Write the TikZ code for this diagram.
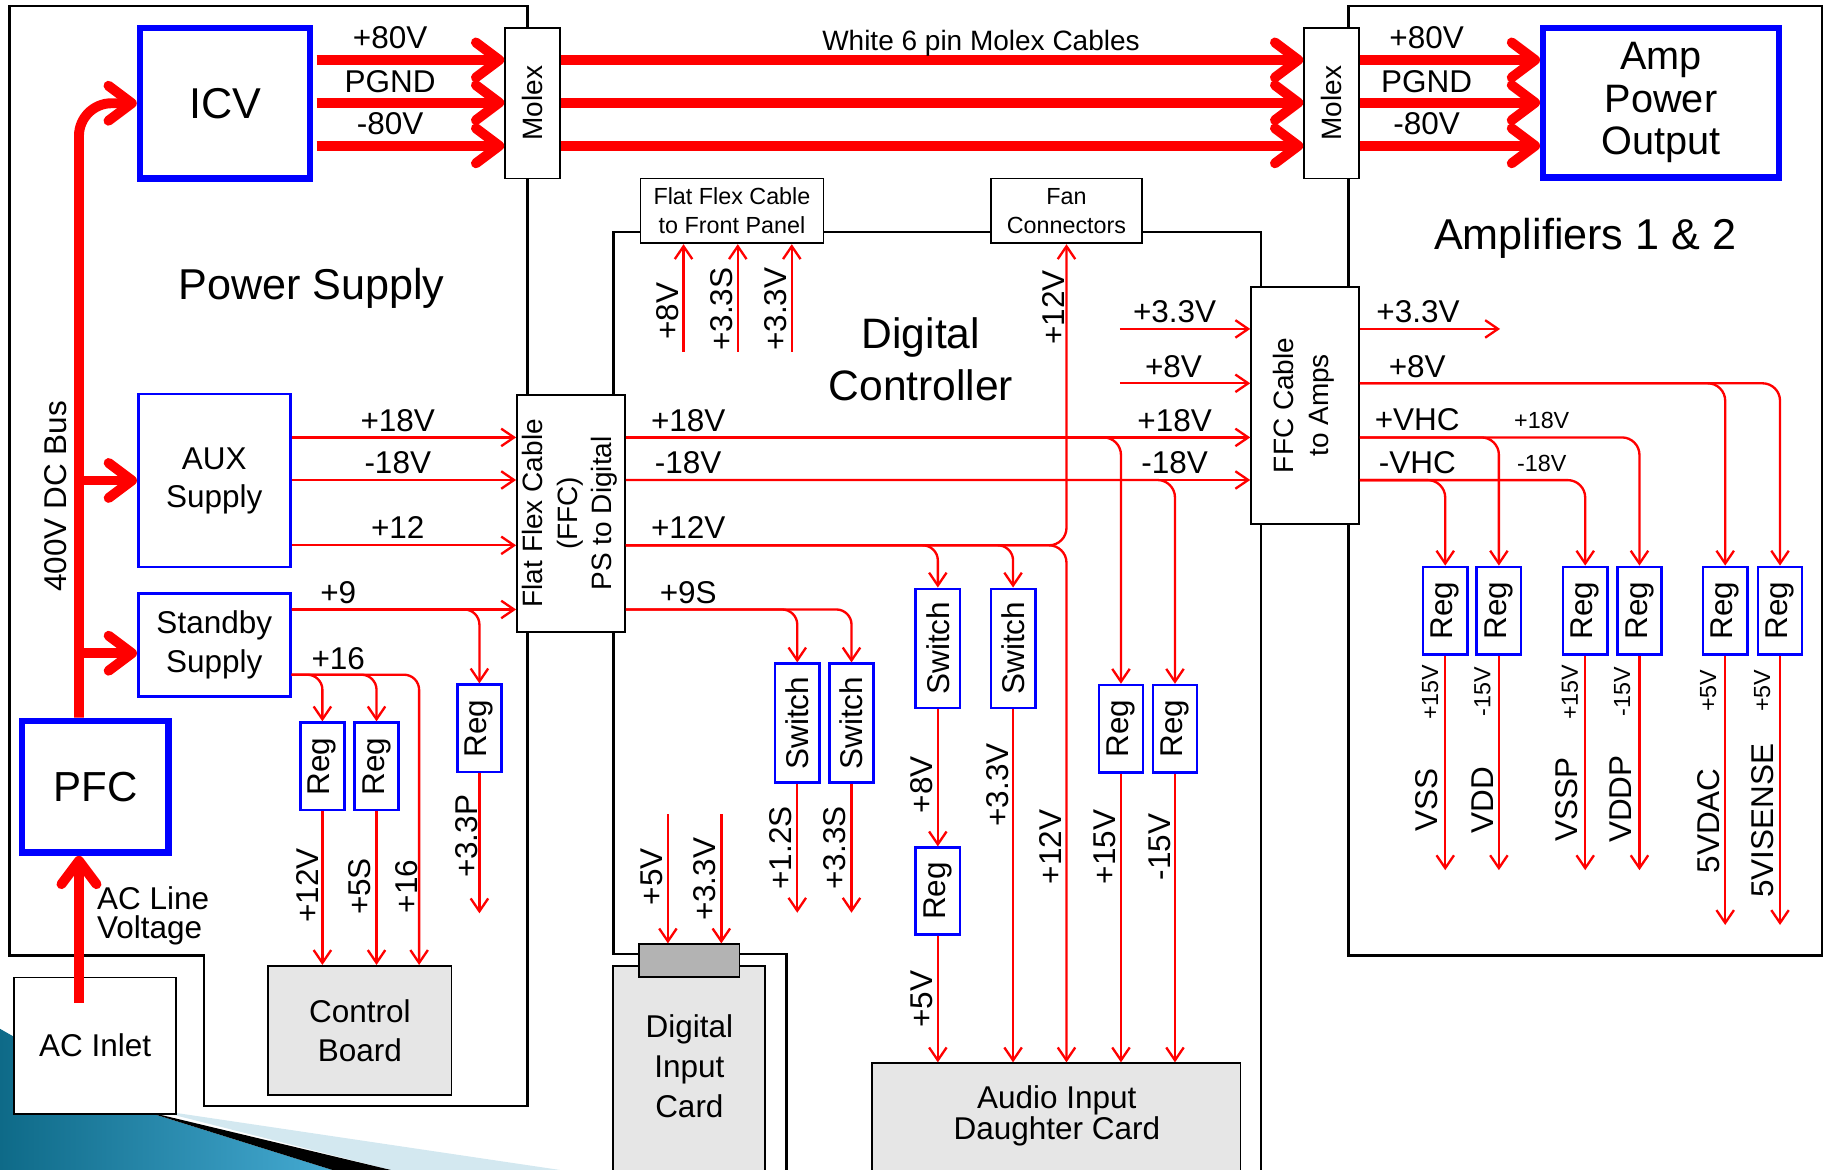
\documentclass[tikz,border=0pt]{standalone}
\usepackage{fontspec}
\usepackage{graphicx}
\setmainfont{Liberation Sans}
\usetikzlibrary{arrows.meta}
\definecolor{boxgray}{HTML}{E6E6E6}
\definecolor{conngray}{HTML}{B3B3B3}
\definecolor{tealdark}{HTML}{0E6A88}
\definecolor{teallight}{HTML}{45AAD2}
\definecolor{paleblue}{HTML}{D3E8F0}
\tikzset{
  thinarr/.style={draw=red, line width=2pt, -{Straight Barb[length=11pt,width=15pt]}},
  thkarr/.style={draw=red, line width=8.5pt, -{Straight Barb[length=20pt,width=30pt,round]}},
  region/.style={draw=black, line width=2.2pt},
  bbox/.style={draw=blue, line width=2.2pt, fill=white, inner sep=0pt},
  tbbox/.style={draw=blue, line width=5.5pt, fill=white, inner sep=0pt},
  kbox/.style={draw=black, line width=1.5pt, fill=white, inner sep=0pt},
  gbox/.style={draw=black, line width=1.5pt, fill=boxgray, inner sep=0pt},
  sz/.style 2 args={minimum width=#1pt, minimum height=#2pt},
  big/.style={font=\fontsize{36}{42}\selectfont, inner sep=0pt},
  med/.style={font=\fontsize{27}{33}\selectfont, inner sep=0pt},
  molf/.style={font=\fontsize{24}{29.5}\selectfont, inner sep=0pt},
  smf/.style={font=\fontsize{20}{25}\selectfont, inner sep=0pt},
  lbl/.style={font=\fontsize{27}{33}\selectfont, inner sep=0pt},
  lblr/.style={lbl, rotate=90},
  slblr/.style={smf, rotate=90},
  regbox/.style={bbox, sz={38}{75}, font=\fontsize{27}{33}\selectfont},
  swbox/.style={bbox, sz={38}{102}, font=\fontsize{27}{33}\selectfont},
}
\begin{document}
\begin{tikzpicture}[x=1pt,y=-1pt]
\useasboundingbox (0,0) rectangle (1568,1003);
\clip (0,0) rectangle (1568,1003);

% ---------- template decoration (bottom left)
\shade[left color=tealdark, right color=teallight] (0,882) -- (125,953) -- (285,1003) -- (0,1003) -- cycle;
\fill[paleblue] (130,951) -- (480,1003) -- (335,1003) -- cycle;
\fill[black] (122,952) -- (335,1003) -- (285,1003) -- cycle;

% ---------- regions
\draw[region] (8,5) -- (452,5) -- (452,948) -- (175,948) -- (175,819) -- (8,819) -- cycle;
\draw[region] (674.3,1010) -- (674.3,818) -- (526,818) -- (526,199) -- (1081,199) -- (1081,1010);
\draw[region] (1156,5) rectangle (1562,819);

% ---------- helper levels
\coordinate (yA) at (0,51.4);
\coordinate (yB) at (0,88);
\coordinate (yC) at (0,125);
\coordinate (y18) at (0,375);
\coordinate (ym18) at (0,411.5);
\coordinate (y12) at (0,467.5);
\coordinate (y9) at (0,522.5);
\coordinate (y16) at (0,578.4);
\coordinate (y33) at (0,282);
\coordinate (y8) at (0,328.6);
\coordinate (yst) at (0,560);
\coordinate (yac) at (0,860);
\coordinate (bx) at (67.7,0);

% ---------- power supply boxes
\node[tbbox, sz={146}{129}, big, font=\fontsize{37}{42}\selectfont] (icv) at (193,88.5) {ICV};
\node[tbbox, sz={125.5}{113}, big] (pfc) at (81.75,674.5) {PFC};
\node[bbox, sz={130.4}{148.2}, med, align=center, font=\fontsize{27}{32.6}\selectfont] (aux) at (183.7,411.9) {AUX\\Supply};
\node[bbox, sz={130.4}{88}, med, align=center, font=\fontsize{27}{33}\selectfont] (stby) at (183.7,553) {Standby\\Supply};
\node[kbox, sz={139}{117}, med] (acin) at (81.5,896.5) {AC Inlet};
\node[kbox, sz={47}{129.3}, molf] (mol1) at (456.5,88.35) {\rotatebox{90}{Molex}};
\node[kbox, sz={92.5}{202.9}] (ffcps) at (489.45,440.05) {};
\node[molf, rotate=90, align=center] (ffcpst) at (488.7,440) {Flat Flex Cable\\(FFC)\\PS to Digital};
\node[gbox, sz={157}{111}, med, align=center, font=\fontsize{27}{33.5}\selectfont] (ctrl) at (308.5,883.5) {Control\\Board};
\node[regbox] (regA) at (276.4,657) {\rotatebox{90}{Reg}};
\node[regbox] (regB) at (322.8,657) {\rotatebox{90}{Reg}};
\node[regbox] (reg33p) at (411,624.5) {\rotatebox{90}{Reg}};

% ---------- amplifier boxes
\node[tbbox, sz={202}{128}, align=center, font=\fontsize{34}{36.5}\selectfont] (amp) at (1424,88) {Amp\\Power\\Output};
\node[kbox, sz={47}{129}, molf] (mol2) at (1141.5,88.5) {\rotatebox{90}{Molex}};
\node[kbox, sz={92.4}{203}] (ffca) at (1118.8,347.5) {};
\node[molf, rotate=90, align=center, font=\fontsize{24}{30}\selectfont] (ffcat) at (1118,347.5) {FFC Cable\\to Amps};
\node[regbox] (ar1) at (1239,523.5) {\rotatebox{90}{Reg}};
\node[regbox] (ar2) at (1285,523.5) {\rotatebox{90}{Reg}};
\node[regbox] (ar3) at (1359,523.5) {\rotatebox{90}{Reg}};
\node[regbox] (ar4) at (1405.5,523.5) {\rotatebox{90}{Reg}};
\node[regbox] (ar5) at (1479,523.5) {\rotatebox{90}{Reg}};
\node[regbox] (ar6) at (1526,523.5) {\rotatebox{90}{Reg}};

% ---------- digital controller boxes
\node[kbox, sz={157}{55.6}, smf, align=center] (fp) at (627.5,180.8) {Flat Flex Cable\\to Front Panel};
\node[kbox, sz={129.4}{55.6}, smf, align=center] (fan) at (914.3,180.8) {Fan\\Connectors};
\node[gbox, sz={130.2}{192}] (dic) at (590.9,924) {};
\node[med, align=center, font=\fontsize{27}{34}\selectfont] (dict) at (591,914) {Digital\\Input\\Card};
\node[draw=black, line width=1.5pt, fill=conngray, inner sep=0pt, sz={86}{27.8}] (conn) at (591,823.4) {};
\node[gbox, sz={315.7}{108.5}] (audio) at (905.65,965.75) {};
\node[med, align=center, font=\fontsize{27}{24}\selectfont] (audiot) at (906,956.6) {Audio Input\\Daughter Card};
\node[swbox] (sw1) at (683.5,620) {\rotatebox{90}{Switch}};
\node[swbox] (sw2) at (730,620) {\rotatebox{90}{Switch}};
\node[swbox] (sw3) at (804,555.8) {\rotatebox{90}{Switch}};
\node[swbox] (sw4) at (868.5,555.8) {\rotatebox{90}{Switch}};
\node[bbox, sz={38}{74.2}, font=\fontsize{27}{33}\selectfont] (rg3) at (804,763.8) {\rotatebox{90}{Reg}};
\node[regbox] (rg1) at (961,624.8) {\rotatebox{90}{Reg}};
\node[regbox] (rg2) at (1007.3,624.8) {\rotatebox{90}{Reg}};

% ---------- thick power arrows
\foreach \yy in {yA,yB,yC}{
  \draw[thkarr, shorten <=2.75pt] (icv.east |- \yy) -- (mol1.west |- \yy);
  \draw[thkarr] (mol1.east |- \yy) -- (mol2.west |- \yy);
  \draw[thkarr] (mol2.east |- \yy) -- (amp.west |- \yy);
}
\draw[thkarr, rounded corners=28pt] (pfc.north -| bx) |- (icv.west);
\draw[thkarr] (bx |- aux.west) -- (aux.west);
\draw[thkarr] (bx |- yst) -- (stby.west |- yst);
\draw[thkarr] (bx |- yac) -- (pfc.south -| bx);

% ---------- power supply thin arrows
\draw[thinarr] (aux.east |- y18) -- (ffcps.west |- y18);
\draw[thinarr] (aux.east |- ym18) -- (ffcps.west |- ym18);
\draw[thinarr] (aux.east |- y12) -- (ffcps.west |- y12);
\draw[thinarr] (stby.east |- y9) -- (ffcps.west |- y9);
\draw[thinarr, rounded corners=13pt] (stby.east |- y9) -| (reg33p.north);
\draw[thinarr, rounded corners=13pt] (stby.east |- y16) -| (regA.north);
\draw[thinarr, rounded corners=13pt] (stby.east |- y16) -| (regB.north);
\coordinate (x16) at (359.3,0);
\draw[thinarr, rounded corners=13pt] (stby.east |- y16) -| (ctrl.north -| x16);
\draw[thinarr] (regA.south) -- (ctrl.north -| regA.south);
\draw[thinarr] (regB.south) -- (ctrl.north -| regB.south);
\coordinate (e33p) at (411,783);
\draw[thinarr] (reg33p.south) -- (e33p);

% ---------- digital controller thin arrows
\coordinate (fpa) at (586,301.5);
\coordinate (fpb) at (632.5,301.5);
\coordinate (fpc) at (678.8,301.5);
\draw[thinarr] (fpa) -- (fp.south -| fpa);
\draw[thinarr] (fpb) -- (fp.south -| fpb);
\draw[thinarr] (fpc) -- (fp.south -| fpc);
\draw[thinarr] (ffcps.east |- y18) -- (ffca.west |- y18);
\draw[thinarr] (ffcps.east |- ym18) -- (ffca.west |- ym18);
\draw[thinarr, rounded corners=15pt] (ffcps.east |- y18) -| (rg1.north);
\draw[thinarr, rounded corners=15pt] (ffcps.east |- ym18) -| (rg2.north);
\draw[thinarr, rounded corners=15pt] (ffcps.east |- y12) -| (fan.south);
\draw[thinarr, rounded corners=15pt] (ffcps.east |- y12) -| (audio.north -| fan.south);
\draw[thinarr, rounded corners=13pt] (ffcps.east |- y12) -| (sw3.north);
\draw[thinarr, rounded corners=13pt] (ffcps.east |- y12) -| (sw4.north);
\draw[thinarr, rounded corners=13pt] (ffcps.east |- y9) -| (sw1.north);
\draw[thinarr, rounded corners=13pt] (ffcps.east |- y9) -| (sw2.north);
\coordinate (e1) at (683.5,782.5);
\coordinate (e2) at (730,782.5);
\draw[thinarr] (sw1.south) -- (e1);
\draw[thinarr] (sw2.south) -- (e2);
\draw[thinarr] (sw3.south) -- (rg3.north);
\draw[thinarr] (rg3.south) -- (audio.north -| rg3.south);
\draw[thinarr] (sw4.south) -- (audio.north -| sw4.south);
\draw[thinarr] (rg1.south) -- (audio.north -| rg1.south);
\draw[thinarr] (rg2.south) -- (audio.north -| rg2.south);
\coordinate (dia) at (572.6,698);
\coordinate (dib) at (618.4,698);
\draw[thinarr] (dia) -- (conn.north -| dia);
\draw[thinarr] (dib) -- (conn.north -| dib);
\coordinate (s33) at (960,282);
\coordinate (s8) at (960,328.6);
\draw[thinarr] (s33) -- (ffca.west |- s33);
\draw[thinarr] (s8) -- (ffca.west |- s8);

% ---------- amplifier thin arrows
\coordinate (a33) at (1286,282);
\draw[thinarr] (ffca.east |- y33) -- (a33);
\draw[thinarr, rounded corners=15pt] (ffca.east |- y8) -| (ar5.north);
\draw[thinarr, rounded corners=15pt] (ffca.east |- y8) -| (ar6.north);
\draw[thinarr, rounded corners=15pt] (ffca.east |- y18) -| (ar2.north);
\draw[thinarr, rounded corners=15pt] (ffca.east |- y18) -| (ar4.north);
\coordinate (ymv) at (0,411.6);
\draw[thinarr, rounded corners=15pt] (ffca.east |- ymv) -| (ar1.north);
\draw[thinarr, rounded corners=15pt] (ffca.east |- ymv) -| (ar3.north);
\coordinate (ya) at (0,746);
\coordinate (yb) at (0,793);
\draw[thinarr] (ar1.south) -- (ar1.south |- ya);
\draw[thinarr] (ar2.south) -- (ar2.south |- ya);
\draw[thinarr] (ar3.south) -- (ar3.south |- ya);
\draw[thinarr] (ar4.south) -- (ar4.south |- ya);
\draw[thinarr] (ar5.south) -- (ar5.south |- yb);
\draw[thinarr] (ar6.south) -- (ar6.south |- yb);

% ---------- titles
\node[big, anchor=base, font=\fontsize{37}{42}\selectfont] (tps) at (267,257) {Power Supply};
\node[big, align=center, font=\fontsize{36.5}{44.3}\selectfont] (tdc) at (789.5,307.8) {Digital\\Controller};
\node[big, anchor=base, font=\fontsize{37}{42}\selectfont] (tamp) at (1359,214.3) {Amplifiers 1 \& 2};
\node[molf] (twm) at (841,37.5) {White 6 pin Molex Cables};
\node[lblr] (tbus) at (48,425.6) {400V DC Bus};
\node[med, align=left, anchor=north west, font=\fontsize{27}{25}\selectfont] (tacl) at (83,760) {AC Line\\Voltage};

% ---------- labels power
\node[lbl] at (334.5,32) {+80V};
\node[lbl] at (334.5,70) {PGND};
\node[lbl] at (334.5,105.7) {-80V};
\node[lbl] at (1223,32) {+80V};
\node[lbl] at (1223,70) {PGND};
\node[lbl] at (1223,106) {-80V};
\node[lbl] at (341,360.6) {+18V};
\node[lbl] at (341,397) {-18V};
\node[lbl] at (341,452.4) {+12};
\node[lbl] at (290,508.5) {+9};
\node[lbl] at (290,564.3) {+16};
\node[lblr] at (264,759) {+12V};
\node[lblr] at (308.6,760) {+5S};
\node[lblr] at (348.6,760) {+16};
\node[lblr] at (400,717) {+3.3P};

% ---------- labels digital
\node[lbl] at (590,360.2) {+18V};
\node[lbl] at (590,397) {-18V};
\node[lbl] at (590,452) {+12V};
\node[lbl] at (590,507.8) {+9S};
\node[lbl] at (1007,360.2) {+18V};
\node[lbl] at (1007,397) {-18V};
\node[lbl] at (1007,267) {+3.3V};
\node[lbl] at (1006,314) {+8V};
\node[lblr] at (572.8,267) {+8V};
\node[lblr] at (619,265) {+3.3S};
\node[lblr] at (665,265) {+3.3V};
\node[lblr] at (903,263.5) {+12V};
\node[lblr] at (669.4,727) {+1.2S};
\node[lblr] at (715.3,727) {+3.3S};
\node[lblr] at (790,672.7) {+8V};
\node[lblr] at (855,673) {+3.3V};
\node[lblr] at (901,726) {+12V};
\node[lblr] at (946.8,726) {+15V};
\node[lblr] at (994.6,726) {-15V};
\node[lblr] at (558.4,751.5) {+5V};
\node[lblr] at (604.3,753.9) {+3.3V};
\node[lblr] at (790,856.6) {+5V};

% ---------- labels amplifiers
\node[lbl] at (1215.6,267) {+3.3V};
\node[lbl] at (1215,314) {+8V};
\node[lbl] at (1215,359.7) {+VHC};
\node[lbl] at (1215,396.5) {-VHC};
\node[smf] at (1321.7,360.7) {+18V};
\node[smf] at (1321.7,397.4) {-18V};
\node[slblr] at (1226,593.6) {+15V};
\node[slblr] at (1270.8,593) {-15V};
\node[slblr] at (1346,593.6) {+15V};
\node[slblr] at (1390.7,593) {-15V};
\node[slblr] at (1464.5,592) {+5V};
\node[slblr] at (1510.8,592) {+5V};
\node[lblr] at (1223,685.8) {VSS};
\node[lblr] at (1270.8,686) {VDD};
\node[lblr] at (1343,685) {VSSP};
\node[lblr] at (1389,685) {VDDP};
\node[lblr] at (1464.5,703.7) {5VDAC};
\node[lblr] at (1510.8,703.7) {5VISENSE};
\end{tikzpicture}
\end{document}
